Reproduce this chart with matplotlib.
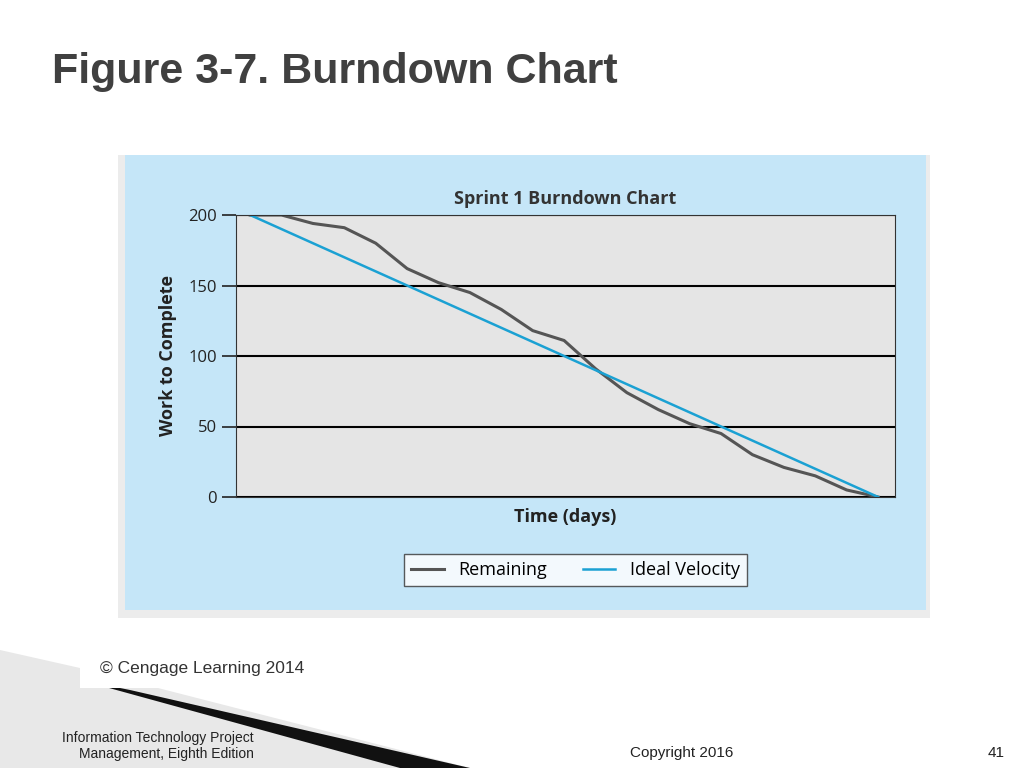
import matplotlib
matplotlib.use("Agg")
import matplotlib.pyplot as plt
from matplotlib.patches import Rectangle, Polygon

days = list(range(21))
remaining = [200, 200, 194, 191, 180, 162, 152, 145, 133, 118, 111, 91, 74, 62, 52, 45, 30, 21, 15, 5, 0]
ideal = [200 - 10 * d for d in days]
yticks = [0, 50, 100, 150, 200]

plt.rcParams['font.family'] = ['Open Sans', 'DejaVu Sans']
W, H = 1024, 768
fig = plt.figure(figsize=(W / 100, H / 100), dpi=100)
fig.patch.set_facecolor("white")

def fx(px): return px / W
def fy(py): return 1 - py / H

fig.text(fx(52), fy(72), "Figure 3-7. Burndown Chart", fontsize=31, fontweight="bold",
         color="#404040", va="center", ha="left", family="Liberation Sans")

fig.patches.append(Rectangle((fx(118), fy(618)), fx(812), 463 / H, transform=fig.transFigure,
                             facecolor="#ececec", edgecolor="none", zorder=-3))
fig.patches.append(Rectangle((fx(125), fy(610)), fx(801), 455 / H, transform=fig.transFigure,
                             facecolor="#c5e6f8", edgecolor="none", zorder=-2))
fig.patches.append(Polygon([(0, fy(650)), (fx(80), fy(668)), (fx(470), fy(768)), (0, fy(768))],
                           closed=True, transform=fig.transFigure, facecolor="#e8e8e8",
                           edgecolor="none", zorder=-3))
fig.patches.append(Polygon([(fx(80), fy(680)), (fx(130), fy(690)), (fx(470), fy(768)), (fx(400), fy(768))],
                           closed=True, transform=fig.transFigure, facecolor="#111111",
                           edgecolor="none", zorder=-3))
fig.patches.append(Rectangle((fx(80), fy(688)), fx(240), 40 / H, transform=fig.transFigure,
                             facecolor="white", edgecolor="none", zorder=-2))

ax = fig.add_axes([fx(236), fy(497), fx(895 - 236), (497 - 215) / H])
ax.set_zorder(5)
ax.set_facecolor("#e5e5e5")
ax.plot(days, remaining, color="#555555", lw=2.2, label="Remaining")
ax.plot(days, ideal, color="#1ba1d3", lw=1.8, label="Ideal Velocity")
ax.set_xlim(-0.45, 20.54)
ax.set_ylim(0, 200)
ax.set_yticks(yticks)
ax.set_xticks([])
ax.grid(axis="y", color="black", lw=1.5)
ax.set_axisbelow(True)
ax.tick_params(axis="y", labelsize=12, direction="out", length=10, width=1.2, colors="#222222")
for s in ax.spines.values():
    s.set_color("#333333")
ax.set_title("Sprint 1 Burndown Chart", fontsize=13, fontweight="bold", color="#333333", pad=8)
ax.set_xlabel("Time (days)", fontsize=13, fontweight="bold", color="#222222", labelpad=8)
ax.set_ylabel("Work to Complete", fontsize=13, fontweight="bold", color="#222222", labelpad=8)
leg = ax.legend(loc="upper center", bbox_to_anchor=(0.515, -0.17), ncol=2, fontsize=13,
                frameon=True, fancybox=False, edgecolor="#333333", handlelength=1.8)
leg.get_frame().set_facecolor("white")

fig.text(fx(100), fy(669), "© Cengage Learning 2014", fontsize=12.5, color="#333333", va="center",
         family="Liberation Sans")
fig.text(fx(254), fy(746), "Information Technology Project\nManagement, Eighth Edition", fontsize=10,
         color="#222222", ha="right", va="center", multialignment="right", family="Liberation Sans")
fig.text(fx(682), fy(753), "Copyright 2016", fontsize=11, color="#222222", ha="center", va="center",
         family="Liberation Sans")
fig.text(fx(1005), fy(753), "41", fontsize=11, color="#222222", ha="right", va="center",
         family="Liberation Sans")

fig.savefig("out.png", dpi=100)
